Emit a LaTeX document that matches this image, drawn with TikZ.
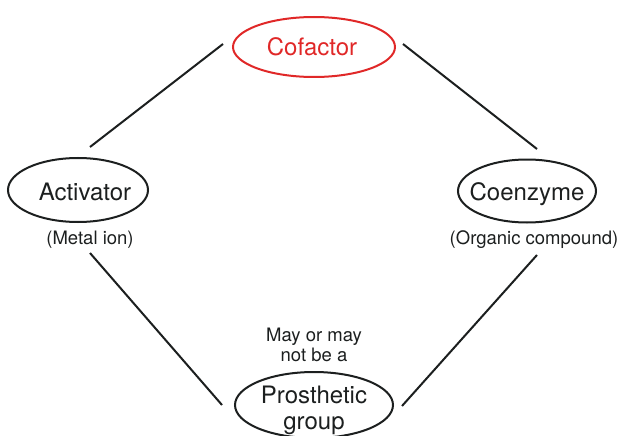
\documentclass[tikz,border=0pt]{standalone}
\usepackage{fontspec}
\setmainfont{TeX Gyre Heros}
\usetikzlibrary{shapes.geometric}
\definecolor{inkdark}{HTML}{1C1F1F}
\definecolor{cofred}{HTML}{E02828}
\tikzset{
  ellnode/.style={ellipse, draw=inkdark, line width=2pt, inner sep=0pt, text=inkdark},
  bigtext/.style={font=\fontsize{24}{26}\selectfont, text=inkdark, inner sep=0pt, align=center},
  smalltext/.style={font=\fontsize{18.5}{19.5}\selectfont, text=inkdark, inner sep=0pt, align=center},
  link/.style={draw=inkdark, line width=2pt}
}
\begin{document}
\begin{tikzpicture}[x=1pt, y=-1pt]
  \useasboundingbox (0,0) rectangle (622,436);

  % the four ellipses
  \node[ellnode, draw=cofred, minimum width=162pt, minimum height=60pt] (cof) at (314,47) {};
  \node[ellnode, minimum width=140pt, minimum height=64pt] (act) at (78,190) {};
  \node[ellnode, minimum width=138pt, minimum height=63pt] (coe) at (527,191) {};
  \node[ellnode, minimum width=158pt, minimum height=66pt] (pro) at (314,405) {};

  % names inside the ellipses (canvas shifts: negative yshift moves down)
  \node[bigtext, text=cofred] (coftext) at ([xshift=-2pt]cof.center) {Cofactor};
  \node[bigtext] (acttext) at ([xshift=7pt, yshift=-2pt]act.center) {Activator};
  \node[bigtext] (coetext) at ([yshift=-3pt]coe.center) {Coenzyme};
  \node[bigtext] (protext) at ([yshift=-5pt]pro.center) {Prosthetic\\group};

  % notes under and above the ellipses
  \node[smalltext] (actnote) at ([xshift=12pt, yshift=-50pt]act.center) {(Metal ion)};
  \node[smalltext] (coenote) at ([xshift=7pt, yshift=-49pt]coe.center) {(Organic compound)};
  \node[smalltext] (pronote) at ([yshift=60pt]pro.center) {May or may\\not be a};

  % connecting lines
  \draw[link] ([shift={(12,-43)}]act.center) -- ([shift={(-91,-3)}]cof.center);
  \draw[link] ([shift={(89,-3)}]cof.center) -- ([shift={(10,-42)}]coe.center);
  \draw[link] ([shift={(12,63)}]act.center) -- ([shift={(-92,0)}]pro.center);
  \draw[link] ([shift={(10,64)}]coe.center) -- ([shift={(88,1)}]pro.center);
\end{tikzpicture}
\end{document}
